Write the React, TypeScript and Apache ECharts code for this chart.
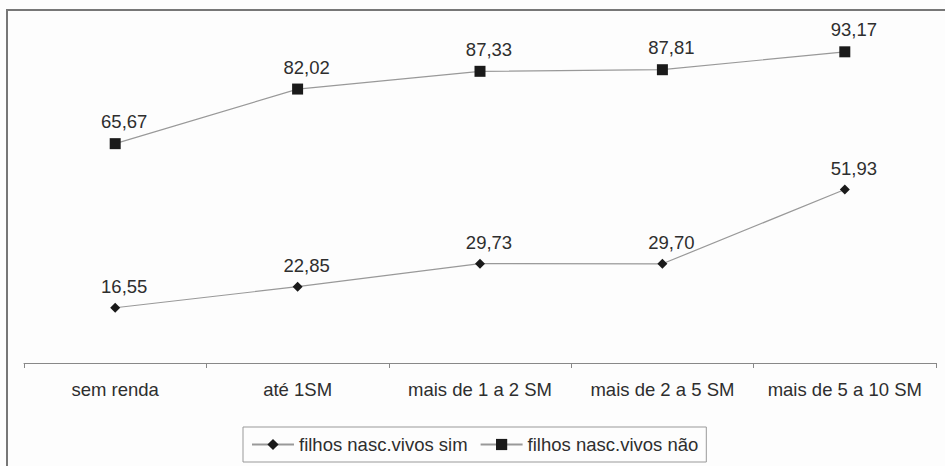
import React, { useEffect, useRef } from "react";
import * as echarts from "echarts";

const categories = ["sem renda", "até 1SM", "mais de 1 a 2 SM", "mais de 2 a 5 SM", "mais de 5 a 10 SM"];
const simValues = [16.55, 22.85, 29.73, 29.7, 51.93];
const naoValues = [65.67, 82.02, 87.33, 87.81, 93.17];
const seriesNames = ["filhos nasc.vivos sim", "filhos nasc.vivos não"];

const FONT = "'Liberation Sans', Arial, sans-serif";
const fmt = (v: number) => v.toFixed(2).replace(".", ",");

export default function App() {
  const ref = useRef<HTMLDivElement>(null);
  useEffect(() => {
    if (!ref.current) return;
    const chart = echarts.init(ref.current, undefined, { renderer: "svg" });
    const label = {
      show: true,
      position: "top" as const,
      distance: 7,
      offset: [9, 0],
      color: "#2e2e2e",
      fontSize: 18.5,
      fontFamily: FONT,
      formatter: (p: any) => fmt(p.value),
    };
    chart.setOption({
      animation: false,
      backgroundColor: "#fdfdfd",
      textStyle: { fontFamily: FONT },
      graphic: [
        {
          type: "rect",
          shape: { x: 7, y: 10, width: 960, height: 480 },
          style: { fill: "none", stroke: "#777", lineWidth: 2 },
          silent: true,
        },
      ],
      grid: { left: 24, right: 9, top: 29, bottom: 103 },
      xAxis: {
        type: "category",
        data: categories,
        boundaryGap: true,
        axisLine: { lineStyle: { color: "#888", width: 1 } },
        axisTick: { show: true, length: 5, lineStyle: { color: "#888" } },
        axisLabel: { color: "#2e2e2e", fontSize: 18.5, fontFamily: FONT, margin: 17, interval: 0 },
      },
      yAxis: {
        type: "value",
        min: 0,
        max: 100,
        show: false,
        splitLine: { show: false },
      },
      legend: {
        left: 243,
        top: 427,
        orient: "horizontal",
        data: seriesNames,
        borderColor: "#999",
        borderWidth: 1,
        padding: [8, 8, 8, 8],
        itemGap: 12,
        itemWidth: 42,
        itemHeight: 14,
        textStyle: { color: "#2e2e2e", fontSize: 18.5, fontFamily: FONT },
      },
      series: [
        {
          name: seriesNames[0],
          type: "line",
          data: simValues,
          symbol: "diamond",
          symbolSize: 10,
          itemStyle: { color: "#1a1a1a" },
          lineStyle: { color: "#999", width: 1.2 },
          label,
        },
        {
          name: seriesNames[1],
          type: "line",
          data: naoValues,
          symbol: "rect",
          symbolSize: 11,
          itemStyle: { color: "#1a1a1a" },
          lineStyle: { color: "#999", width: 1.2 },
          label,
        },
      ],
    });
    return () => chart.dispose();
  }, []);
  return (
    <div
      ref={ref}
      style={{ position: "fixed", left: 0, top: 0, width: 945, height: 466 }}
    />
  );
}
